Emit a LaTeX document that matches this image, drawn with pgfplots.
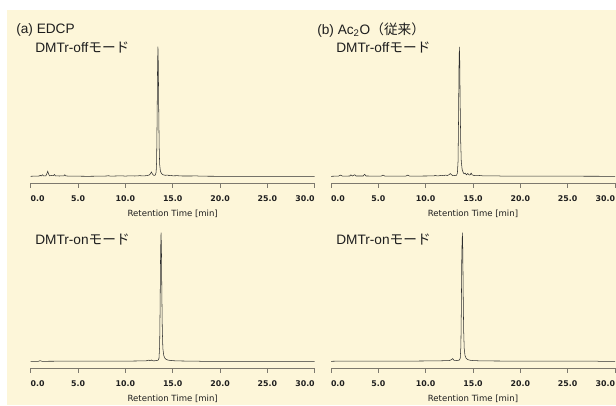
\documentclass[border=0pt]{standalone}
\usepackage{fontspec}
\usepackage{pgfplots}
\pgfplotsset{compat=1.18}
\setmainfont{Liberation Sans}
\newfontfamily\cjk{Noto Sans CJK JP}
\newfontfamily\dvs{DejaVu Sans}
\definecolor{bgcream}{RGB}{253,246,217}
\definecolor{axgray}{RGB}{125,121,110}
\definecolor{sig}{RGB}{45,45,45}
\definecolor{txt}{RGB}{30,30,30}
\pgfplotsset{
  chrom/.style={
    scale only axis, width=213pt, height=103.5pt,
    xmin=0, xmax=30, ymin=-7, ymax=131,
    axis x line*=bottom, axis y line=none,
    xtick={0,5,...,30}, ytick=\empty,
    xticklabels={\rlap{0.0},5.0,10.0,15.0,20.0,25.0,\llap{30.0}},
    tick align=outside, major tick length=3.5pt,
    every tick/.style={axgray, line width=0.6pt},
    axis line style={axgray, line width=0.8pt},
    xticklabel style={font=\dvs\bfseries\fontsize{5.9pt}{7pt}\selectfont, text=txt, yshift=-2.5pt},
    xlabel={Retention Time [min]},
    xlabel style={font=\dvs\fontsize{6.4pt}{7pt}\selectfont, text=txt, yshift=1pt},
    cycle list={{sig, line width=0.75pt, no markers}},
  }
}
\begin{document}
\begin{tikzpicture}
\path[use as bounding box] (0pt,0pt) rectangle (462pt,303.75pt);
\fill[bgcream] (5.25pt,0pt) rectangle (462pt,296.25pt);

% (a) top: EDCP, DMTr-off
\begin{axis}[chrom, at={(23.03pt,166.28pt)}, anchor=south west]
\addplot table {
0 0
0.5 0.2
0.9 0.3
1.0 1.0
1.1 0.3
1.25 1.5
1.35 0.4
1.6 0.5
1.7 2.5
1.8 5.0
1.9 2.0
2.0 0.5
2.2 0.8
2.4 0.6
2.5 1.8
2.6 0.5
2.9 0.4
3.0 0.3
3.5 0.4
3.6 1.5
3.7 0.4
4.0 0.2
5.0 0.1
6.0 0.0
7.0 0.1
8.0 0.3
8.2 0.6
8.4 0.2
9.0 0.3
9.5 0.5
10.0 0.2
10.5 0.5
11.0 0.3
11.5 0.6
12.0 0.4
12.3 0.8
12.5 1.2
12.65 2.5
12.75 4.3
12.85 2.5
12.95 1.2
13.05 0.9
13.15 1.2
13.25 4
13.30 15
13.35 55
13.40 110
13.44 129.6
13.48 112
13.52 70
13.57 30
13.62 12
13.70 5
13.80 3
13.9 2
14.0 1.5
14.2 1.0
14.5 1.2
14.6 0.7
14.8 1.0
15.0 0.5
15.5 0.6
16.0 0.3
17.0 0.3
17.5 0.4
18.0 0.1
20 0
25 0
30 0
};
\end{axis}

% (b) top: Ac2O, DMTr-off
\begin{axis}[chrom, at={(248.25pt,166.28pt)}, anchor=south west]
\addplot table {
0 0
0.8 0.2
1.0 1.2
1.2 0.2
2.0 0.3
2.1 1.5
2.25 0.3
2.5 1.5
2.65 0.3
3.4 0.3
3.55 2.0
3.7 0.3
5.3 0.2
5.5 1.2
5.7 0.2
7.9 0.2
8.1 1.2
8.3 0.2
10.0 0.3
10.9 0.4
11.0 1.0
11.2 0.4
11.5 0.6
11.7 1.0
11.9 0.6
12.1 1.2
12.3 0.8
12.5 1.8
12.6 2.7
12.7 1.8
12.85 0.8
13.0 0.7
13.25 1.0
13.35 3
13.42 15
13.47 55
13.52 110
13.56 129.5
13.60 115
13.64 75
13.70 35
13.76 15
13.85 7
13.95 4
14.05 2.5
14.17 3.2
14.3 1.5
14.45 2.8
14.6 1.3
14.7 1.5
14.8 3.2
14.9 1.5
15.1 0.8
15.5 1.0
16.0 0.5
16.5 0.4
17.5 0.5
18.0 0.2
20.0 0.1
23.0 0.2
25.0 0.1
30.0 0
};
\end{axis}

% (a) bottom: EDCP, DMTr-on
\begin{axis}[chrom, at={(23.03pt,27.53pt)}, anchor=south west]
\addplot table {
0 0
0.8 0
1.0 0.6
1.2 0
3 0.1
6 0.1
10 0.2
11 0.3
12.0 0.4
12.3 0.6
12.5 1.2
12.6 0.6
12.75 1.3
12.85 0.6
13.0 0.5
13.2 0.6
13.45 1.0
13.55 3
13.62 15
13.67 55
13.72 110
13.77 128.6
13.81 112
13.85 70
13.90 32
13.96 13
14.05 6
14.15 3.5
14.3 2.0
14.5 1.2
15.0 0.6
16.0 0.3
17.5 0.2
18 0
30 0
};
\end{axis}

% (b) bottom: Ac2O, DMTr-on
\begin{axis}[chrom, at={(248.25pt,27.53pt)}, anchor=south west]
\addplot table {
0 0
1 0.2
2 0.1
4 0.1
8 0.2
11 0.4
12 0.6
12.5 0.8
12.7 1.5
12.85 2.7
13.0 1.0
13.3 0.8
13.55 1.2
13.65 3
13.72 15
13.77 55
13.82 110
13.88 128.6
13.92 112
13.96 70
14.01 32
14.07 13
14.15 6
14.25 3.5
14.4 2.0
14.6 1.2
15.0 0.7
16 0.4
17.5 0.3
20 0.2
28 0.2
28.3 0
30 0
};
\end{axis}

\begin{scope}[every node/.style={anchor=west, inner sep=0pt, text=txt, font=\fontsize{10.25pt}{12pt}\selectfont}]
\node at (12pt,281.25pt) {(a) EDCP};
\node at (26.25pt,267.75pt) {DMTr-off{\cjk モード}};
\node at (237.75pt,281.25pt) {(b) Ac\textsubscript{2}O{\cjk （従来）}};
\node at (252pt,267.75pt) {DMTr-off{\cjk モード}};
\node at (26.25pt,123.75pt) {DMTr-on{\cjk モード}};
\node at (252pt,123.75pt) {DMTr-on{\cjk モード}};
\end{scope}
\end{tikzpicture}
\end{document}
